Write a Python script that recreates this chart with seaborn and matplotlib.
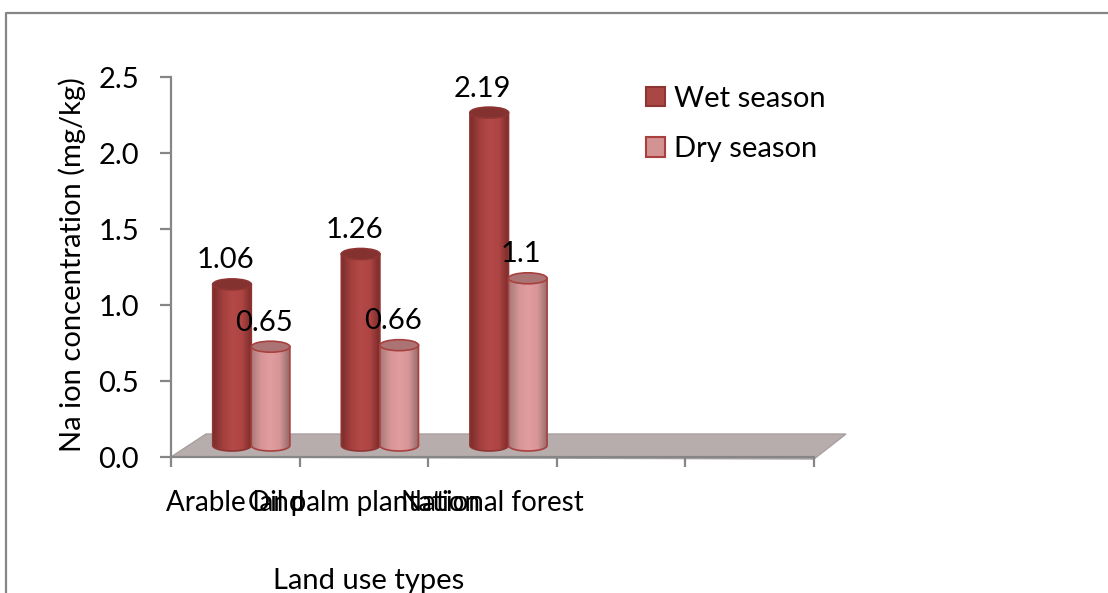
#!/usr/bin/env python3
"""Na ion concentration by land use type, faux-3D cylinders on a grey floor."""

import numpy as np
import pandas as pd
import matplotlib
matplotlib.use("Agg")
import matplotlib.pyplot as plt
from matplotlib.colors import LinearSegmentedColormap, to_hex
from matplotlib.lines import Line2D
from matplotlib.patches import Ellipse, Polygon, Rectangle
import seaborn as sns

land_use = ["Arable land", "Oil palm plantation", "National forest"]
wet_season = [1.06, 1.26, 2.19]
dry_season = [0.65, 0.66, 1.1]
y_ticks = [0.0, 0.5, 1.0, 1.5, 2.0, 2.5]

W, H = 1108, 593
AX_L, AX_R, AX_T, AX_B = 171, 814, 77, 457
GREY = "#868686"
WET, DRY = "#a94745", "#d29392"
WET_EDGE, DRY_EDGE = "#8e3533", "#a8403e"
FS = 21

wet_cmap = LinearSegmentedColormap.from_list(
    "wet", ["#7c2c2a", "#a23f3d", "#b44a47", "#ad4543", "#7a2b29"])
dry_cmap = LinearSegmentedColormap.from_list(
    "dry", ["#a87a7a", "#d59596", "#e19c9f", "#d59596", "#936a6a"])


def main():
    sns.set_theme(style="white")
    plt.rcParams["font.family"] = ["Lato", "DejaVu Sans"]

    df = pd.DataFrame({
        "land": land_use * 2,
        "season": ["Wet season"] * 3 + ["Dry season"] * 3,
        "value": wet_season + dry_season,
    })

    fig = plt.figure(figsize=(W / 100, H / 100), dpi=100)
    ax = fig.add_axes([AX_L / W, 1 - AX_B / H, (AX_R - AX_L) / W, (AX_B - AX_T) / H])
    ax.patch.set_alpha(0)

    sns.barplot(data=df, x="land", y="value", hue="season", order=land_use,
                palette={"Wet season": WET, "Dry season": DRY}, width=0.6,
                saturation=1, errorbar=None, ax=ax)

    # category axis has two empty slots on the right
    ax.set_xlim(-0.5, 4.5)
    ax.set_ylim(0, 2.5)
    px_x = 5 / (AX_R - AX_L)      # one pixel in data units
    px_y = 2.5 / (AX_B - AX_T)

    # outer frame, open to the right and bottom
    fig.add_artist(Line2D([6 / W, 6 / W, 1], [0, 1 - 13 / H, 1 - 13 / H],
                          transform=fig.transFigure, color=GREY, linewidth=1.6))

    # floor of the 3D box
    floor = Polygon([(-0.5, 0), (-0.5 + 35 * px_x, 23 * px_y), (4.5 + 32 * px_x, 23 * px_y),
                     (4.5, -2 * px_y)], closed=True, facecolor="#b7adad",
                     edgecolor="#a8a0a0", linewidth=1, clip_on=False, zorder=0.5)
    ax.add_patch(floor)

    # turn the flat bars into cylinders standing on the floor
    shift_x, shift_y = 16 * px_x, 11.5 * px_y
    bars = [p for p in ax.patches if isinstance(p, Rectangle) and p.get_height() > 0]
    for bar in bars:
        is_wet = to_hex(bar.get_facecolor()) == WET
        left = bar.get_x() + shift_x
        w = bar.get_width()
        h = bar.get_height()
        base = shift_y
        top = base + h
        cmap = wet_cmap if is_wet else dry_cmap
        edge = WET_EDGE if is_wet else DRY_EDGE
        bar.set_visible(False)
        z = 3 if is_wet else 4
        eh = 11 * px_y

        grad = np.linspace(0, 1, 64).reshape(1, -1)
        im = ax.imshow(grad, cmap=cmap, extent=(left, left + w, base - eh / 2, top),
                       aspect="auto", zorder=z)
        clip_xy = np.vstack([[(left, top), (left + w, top)],
                             [(left + w / 2 + w / 2 * np.cos(t), base + eh / 2 * np.sin(t))
                              for t in np.linspace(0, -np.pi, 30)]])
        im.set_clip_path(Polygon(clip_xy, closed=True, transform=ax.transData))
        ax.add_patch(Polygon(clip_xy, closed=True, fill=False, edgecolor=edge, linewidth=1.2,
                             zorder=z + 0.1, clip_on=False))
        ax.add_patch(Ellipse((left + w / 2, top), w, eh,
                             facecolor="#843230" if is_wet else "#ac7374", edgecolor=edge,
                             linewidth=1.2, zorder=z + 0.2, clip_on=False))
        ax.annotate(f"{h:g}", (left + w / 2, top), xytext=(-6.5, 24),
                    textcoords="offset pixels", ha="center", va="center",
                    fontsize=FS, color="black", zorder=6, annotation_clip=False)

    ax.set_xticks(range(len(land_use)), land_use)
    ax.set_xticks(np.arange(-0.5, 5), minor=True)
    ax.set_yticks(y_ticks, [f"{v:.1f}" for v in y_ticks])
    ax.tick_params(axis="x", which="major", length=0, pad=24, labelsize=20, labelcolor="black")
    ax.tick_params(axis="x", which="minor", length=7, width=1.6, color=GREY, bottom=True)
    ax.tick_params(axis="y", length=8, width=1.6, color=GREY, left=True, pad=15,
                   labelsize=FS, labelcolor="black")
    for side in ("top", "right"):
        ax.spines[side].set_visible(False)
    for side in ("left", "bottom"):
        ax.spines[side].set_color(GREY)
        ax.spines[side].set_linewidth(1.6)

    ax.set_ylabel("")
    ax.set_xlabel("")
    fig.text(72 / W, 1 - 265 / H, "Na ion concentration (mg/kg)", rotation=90,
             ha="center", va="center", fontsize=FS, color="black")
    fig.text(369 / W, 1 - 581 / H, "Land use types", ha="center", va="center",
             fontsize=FS, color="black")

    handles = ax.get_legend().legend_handles
    for handle, edge in zip(handles, [WET_EDGE, DRY_EDGE]):
        handle.set_edgecolor(edge)
        handle.set_linewidth(1.5)
    ax.legend(handles, ["Wet season", "Dry season"], frameon=False, fontsize=FS,
              loc="upper left",
              bbox_to_anchor=((646 - AX_L) / (AX_R - AX_L), (AX_B - 86) / (AX_B - AX_T)),
              handlelength=0.635, handleheight=0.635, handletextpad=0.33,
              labelspacing=0.83, borderpad=0, borderaxespad=0, labelcolor="black")

    fig.savefig("out.png", dpi=100)
    plt.close(fig)


if __name__ == "__main__":
    main()
